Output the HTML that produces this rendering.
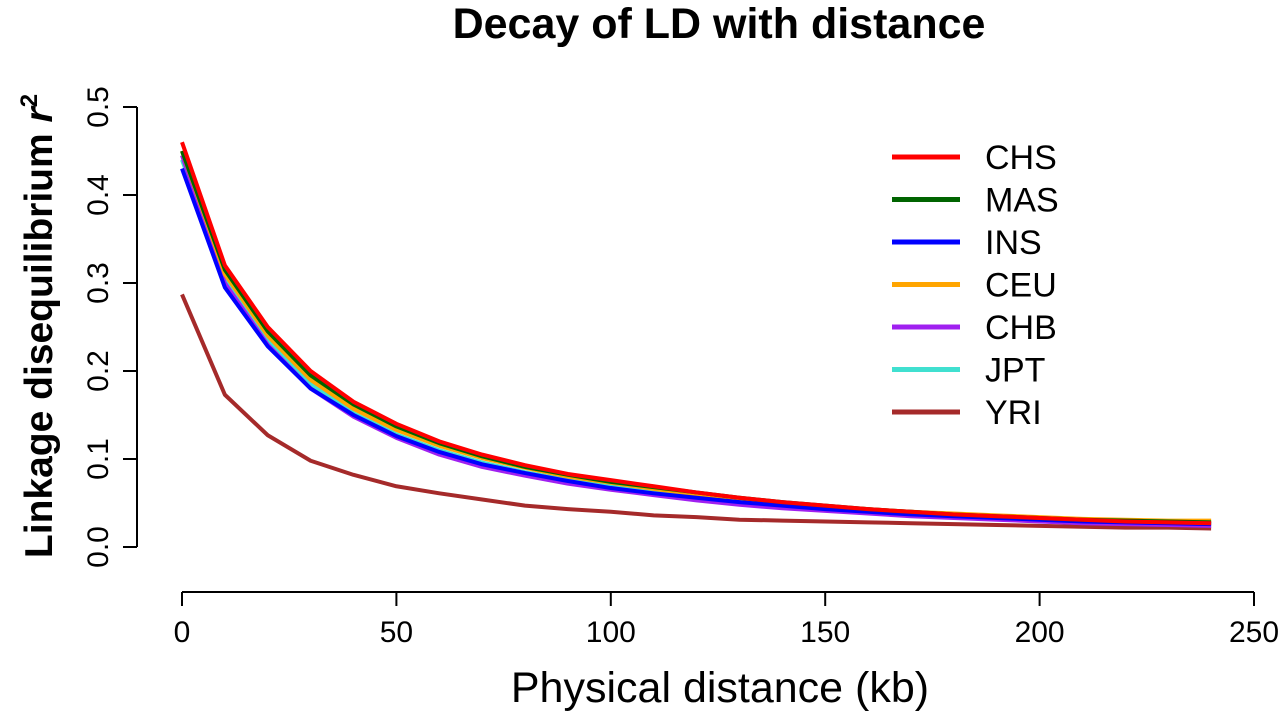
<!DOCTYPE html>
<html><head><meta charset="utf-8"><style>
html,body{margin:0;padding:0;background:#fff;}
svg{display:block;font-family:"Liberation Sans",Arial,sans-serif;}
</style></head><body>
<svg id="chart" width="1280" height="712" viewBox="0 0 1280 712">
<text x="719" y="38" text-anchor="middle" font-size="43" font-weight="bold">Decay of LD with distance</text>
<text transform="translate(52,326) rotate(-90)" text-anchor="middle" font-size="39" font-weight="bold">Linkage disequilibrium <tspan font-style="italic">r</tspan><tspan font-size="24" dy="-15">2</tspan></text>
<text x="720" y="702" text-anchor="middle" font-size="43">Physical distance (kb)</text>
<g id="axes"></g>
<g id="series"></g>
<g id="legend"></g>
</svg>
<script>
const xs = [0,10,20,30,40,50,60,70,80,90,100,110,120,130,140,150,160,170,180,190,200,210,220,230,240];
const seriesNames = ["YRI","JPT","CHB","CEU","INS","MAS","CHS"];
const legendOrder = ["CHS","MAS","INS","CEU","CHB","JPT","YRI"];
const colors = {CHS:"#ff0000",MAS:"#006400",INS:"#0000ff",CEU:"#ffa500",CHB:"#a020f0",JPT:"#40e0d0",YRI:"#a52a2a"};
const CHS = [0.46,0.32,0.25,0.2,0.165,0.14,0.12,0.105,0.093,0.083,0.076,0.069,0.062,0.056,0.051,0.047,0.043,0.04,0.037,0.035,0.033,0.031,0.029,0.028,0.027];
const MAS = [0.45,0.315,0.245,0.195,0.162,0.137,0.118,0.103,0.091,0.082,0.074,0.068,0.062,0.056,0.051,0.047,0.043,0.04,0.037,0.035,0.033,0.031,0.03,0.029,0.028];
const CEU = [0.45,0.31,0.24,0.19,0.157,0.133,0.115,0.101,0.09,0.08,0.073,0.066,0.06,0.055,0.05,0.046,0.043,0.04,0.038,0.036,0.034,0.032,0.031,0.03,0.03];
const JPT = [0.44,0.305,0.235,0.185,0.152,0.128,0.11,0.096,0.085,0.076,0.069,0.062,0.057,0.052,0.048,0.044,0.041,0.038,0.035,0.033,0.031,0.029,0.028,0.027,0.026];
const CHB = [0.445,0.3,0.23,0.18,0.148,0.124,0.105,0.091,0.081,0.072,0.065,0.059,0.053,0.048,0.044,0.041,0.038,0.035,0.033,0.031,0.029,0.027,0.026,0.025,0.024];
const INS = [0.43,0.295,0.228,0.18,0.15,0.126,0.108,0.094,0.084,0.075,0.067,0.061,0.056,0.051,0.047,0.043,0.04,0.037,0.035,0.033,0.031,0.029,0.028,0.027,0.026];
const YRI = [0.287,0.173,0.127,0.098,0.082,0.069,0.061,0.054,0.047,0.043,0.04,0.036,0.034,0.031,0.03,0.029,0.028,0.027,0.026,0.025,0.024,0.023,0.022,0.022,0.021];
const xTicks = [0,50,100,150,200,250];
const yTicks = [0.0,0.1,0.2,0.3,0.4,0.5];
const yTickLabels = ["0.0","0.1","0.2","0.3","0.4","0.5"];
const data = {CHS,MAS,CEU,JPT,CHB,INS,YRI};

const NS="http://www.w3.org/2000/svg";
const xS = v => 182 + v*(1254-182)/250;
const yS = v => 547 - v*(547-107)/0.5;
function mk(tag, attrs, parent){const e=document.createElementNS(NS,tag);for(const k in attrs)e.setAttribute(k,attrs[k]);parent.appendChild(e);return e;}
const axes=document.getElementById('axes');
let l=mk('line',{x1:xS(0),x2:xS(250),y1:592,y2:592,stroke:'#000','stroke-width':2},axes);


xTicks.forEach(t=>{
  const tk=mk('line',{x1:xS(t),x2:xS(t),y1:592,y2:606,stroke:'#000','stroke-width':2},axes);
  
  
  const tx=mk('text',{x:xS(t),y:642,'text-anchor':'middle','font-size':30},axes);
  tx.textContent=t;
  
  
});
l=mk('line',{x1:137,x2:137,y1:yS(0),y2:yS(0.5),stroke:'#000','stroke-width':2},axes);


yTicks.forEach((t,i)=>{
  const tk=mk('line',{x1:123,x2:137,y1:yS(t),y2:yS(t),stroke:'#000','stroke-width':2},axes);
  
  
  const tx=mk('text',{transform:`translate(108,${yS(t)}) rotate(-90)`,'text-anchor':'middle','font-size':30},axes);
  tx.textContent=yTickLabels[i];
  
  
});
const sg=document.getElementById('series');
seriesNames.forEach(n=>{
  const pts=xs.map((x,i)=>xS(x)+','+yS(data[n][i])).join(' ');
  const p=mk('polyline',{points:pts,fill:'none',stroke:colors[n],'stroke-width':4,'stroke-linejoin':'round'},sg);
  
  
});
const lg=document.getElementById('legend');
legendOrder.forEach((n,i)=>{
  const y=157+i*42.5;
  const ln=mk('line',{x1:892,x2:960,y1:y,y2:y,stroke:colors[n],'stroke-width':5},lg);
  
  
  const tx=mk('text',{x:985,y:y+12,'font-size':34},lg);
  tx.textContent=n;
  
  
});
</script>
</body></html>
